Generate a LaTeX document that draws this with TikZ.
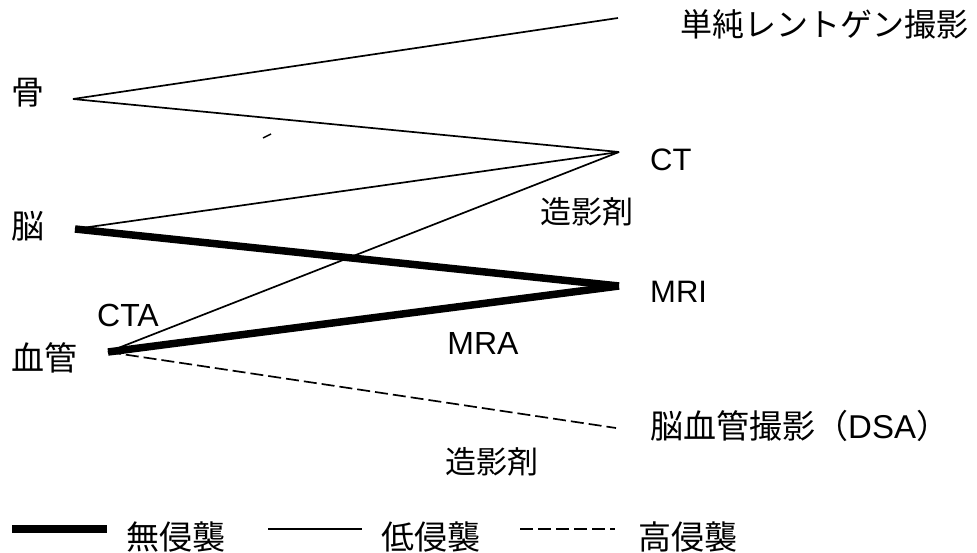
\documentclass[tikz,border=0pt]{standalone}
\usepackage{fontspec}
\setmainfont{Liberation Sans}
\newfontfamily\jp{Noto Sans CJK JP}
\begin{document}
\begin{tikzpicture}[x=1pt,y=-1pt,
  lbl/.style={inner sep=0pt, anchor=west, font=\jp\fontsize{33}{38}\selectfont},
  lat/.style={inner sep=0pt, anchor=west, font=\fontsize{31}{36}\selectfont},
  note/.style={inner sep=0pt, font=\jp\fontsize{31}{36}\selectfont},
  notel/.style={inner sep=0pt, font=\fontsize{32}{37}\selectfont},
  thin/.style={line width=1.7pt},
  thick/.style={line width=7.5pt},
  dashd/.style={line width=1.7pt, dash pattern=on 13pt off 5pt}]
\useasboundingbox (0,0) rectangle (977,552);
% endpoints
\coordinate (bone) at (73,99);
\coordinate (brain) at (75,229);
\coordinate (vessel) at (108,352);
\coordinate (xray) at (618,18);
\coordinate (ct) at (619,152);
\coordinate (mri) at (619,286);
\coordinate (dsa) at (616,428);
% labels
\node[lbl] (lbone) at (11,93) {骨};
\node[lbl] (lbrain) at (11,226) {脳};
\node[lbl] (lvessel) at (11,358) {血管};
\node[lbl, font=\jp\fontsize{32}{37}\selectfont] (lxray) at (680,24) {単純レントゲン撮影};
\node[lat] (lct) at (650,160) {CT};
\node[lat] (lmri) at (650,292) {MRI};
\node[lbl] (ldsa) at (650,426) {脳血管撮影{\jp （}\fontspec{Liberation Sans}DSA{\jp ）}};
\node[note] (c1) at (587,212) {造影剤};
\node[note] (c2) at (492,462) {造影剤};
\node[notel] (cta) at (128,315) {CTA};
\node[notel] (mra) at (483,343) {MRA};
% connectors
\draw[thin] (bone) -- (xray);
\draw[thin] (bone) -- (ct);
\draw[thin] (brain) -- (ct);
\draw[thin] (vessel) -- (ct);
\draw[thick] (brain) -- (mri);
\draw[thick] (vessel) -- (mri);
\draw[dashd] (vessel) -- (dsa);
% stray mark
\draw[line width=1.5pt] (263,138) -- (271,134);
% legend
\coordinate (k1a) at (12,529); \coordinate (k1b) at (107,529);
\coordinate (k2a) at (268,529); \coordinate (k2b) at (362,529);
\coordinate (k3a) at (520,529); \coordinate (k3b) at (615,529);
\draw[line width=8pt] (k1a) -- (k1b);
\draw[thin] (k2a) -- (k2b);
\draw[dashd] (k3a) -- (k3b);
\node[lbl] (t1) at (126,537) {無侵襲};
\node[lbl] (t2) at (381,537) {低侵襲};
\node[lbl] (t3) at (638,537) {高侵襲};
\end{tikzpicture}
\end{document}
